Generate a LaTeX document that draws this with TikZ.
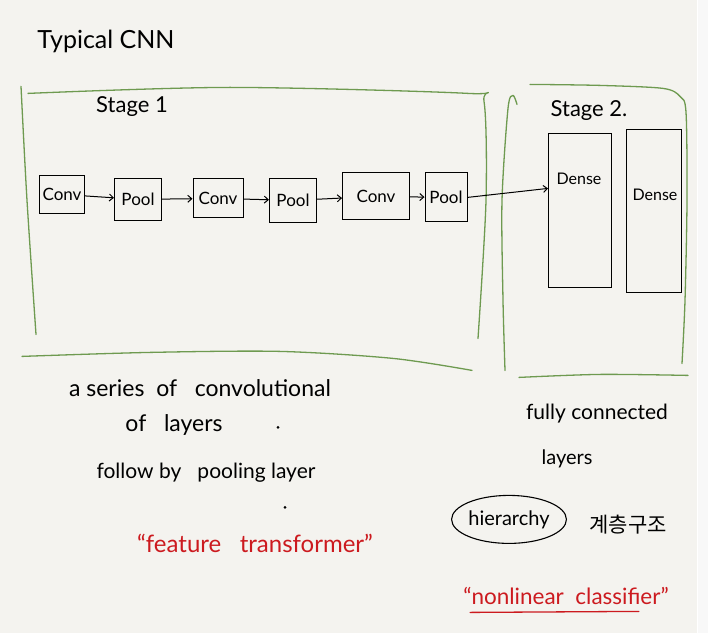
\documentclass[tikz,border=0pt]{standalone}
\usepackage{fontspec}
\setmainfont{Lato}
\newfontfamily\krfont{Noto Sans CJK KR}
\usetikzlibrary{shapes.geometric,arrows.meta}
\definecolor{bgc}{HTML}{F4F3EF}
\definecolor{stripc}{HTML}{F8F8F8}
\definecolor{grn}{HTML}{6E9A50}
\definecolor{rd}{HTML}{CC1A1F}
\tikzset{
  stagebox/.style={draw=grn, line width=1.3pt, line cap=round, line join=round},
  layerbox/.style={draw=black, line width=1pt, minimum width=#1, inner sep=0pt, font=\fontsize{17}{17}\selectfont},
  tallbox/.style={draw=black, line width=1pt, inner sep=0pt},
  flow/.style={-{Straight Barb[length=4pt,width=7pt]}, line width=1pt},
  hand/.style={inner sep=0pt, text=black},
  redhand/.style={inner sep=0pt, text=rd},
}
\begin{document}
\begin{tikzpicture}[x=1pt,y=-1pt]
\fill[bgc] (0,0) rectangle (708,633);
\fill[stripc] (697,0) rectangle (708,633);
\draw[white, line width=0.8pt] (697,0) -- (697,633);
\useasboundingbox (0,0) rectangle (708,633);

% title
\node[hand, font=\fontsize{25}{25}\selectfont] (title) at (106,41) {Typical CNN};

% stage 1 frame
\draw[stagebox] plot[smooth] coordinates {(21,86) (27,200) (36,334)};
\draw[stagebox] plot[smooth] coordinates {(28,93) (230,87) (468,93) (484,101) (486,200) (478,338)};
\draw[stagebox] plot[smooth] coordinates {(22,356) (150,352) (280,351) (393,358) (472,370)};
\node[hand, font=\fontsize{22}{22}\selectfont] (s1) at (132,106) {Stage 1};

% stage 2 frame
\draw[stagebox] plot[smooth] coordinates {(517,104) (513,95) (508,108) (502,200) (503,300) (505,370)};
\draw[stagebox] plot[smooth] coordinates {(530,84) (600,85) (663,88) (680,96) (686,112) (687,200) (685,300) (682,363)};
\draw[stagebox] plot[smooth] coordinates {(519,377) (600,374) (688,375)};
\node[hand, font=\fontsize{22}{22}\selectfont] (s2) at (589,110) {Stage 2.};

% layers
\node[layerbox=45pt, minimum height=38pt] (c1) at (62,194) {Conv};
\node[layerbox=47pt, minimum height=42pt] (p1) at (138,199) {Pool};
\node[layerbox=50pt, minimum height=39pt] (c2) at (218,198) {Conv};
\node[layerbox=47pt, minimum height=44pt] (p2) at (293,200) {Pool};
\node[layerbox=67pt, minimum height=47pt] (c3) at (376,196) {Conv};
\node[layerbox=42pt, minimum height=49pt] (p3) at (446,197) {Pool};

\node[tallbox, minimum width=63pt, minimum height=154pt] (d1) at (580,210) {};
\node[hand, font=\fontsize{16}{16}\selectfont] (d1t) at (579,178) {Dense};
\node[tallbox, minimum width=55pt, minimum height=163pt] (d2) at (654,211) {};
\node[hand, font=\fontsize{16}{16}\selectfont] (d2t) at (655,194) {Dense};

\draw[flow] (c1) -- (p1);
\draw[flow] (p1) -- (c2);
\draw[flow] (c2) -- (p2);
\draw[flow] (p2) -- (c3);
\draw[flow] (c3) -- (p3);
\draw[flow] (p3.east) -- ([yshift=22pt]d1.west);

% stage 1 notes
\node[hand, font=\fontsize{23}{23}\selectfont] (n1) at (200,388) {a series \ of \ \ convolutional};
\node[hand, font=\fontsize{23}{23}\selectfont] (n2) at (174,425) {of \ \ layers};
\fill (278,427) circle (1.5pt);
\node[hand, font=\fontsize{21}{21}\selectfont] (n3) at (206,472) {follow by \ \ pooling layer};
\fill (285,507) circle (1.5pt);
\node[redhand, font=\fontsize{24}{24}\selectfont] (n4) at (255,543) {``feature \ \ transformer''};

% stage 2 notes
\node[hand, font=\fontsize{21}{21}\selectfont] (m1) at (597,413) {fully connected};
\node[hand, font=\fontsize{20}{20}\selectfont] (m2) at (567,458) {layers};
\node[ellipse, draw, line width=1.1pt, minimum width=110pt, minimum height=48pt, inner sep=0pt, font=\fontsize{20}{20}\selectfont] (hier) at (509,519) {hierarchy};
\node[hand, font=\krfont\fontsize{21}{21}\selectfont] (kr) at (628,524) {계층구조};
\node[redhand, font=\fontsize{22.5}{22.5}\selectfont] (nl) at (566,596) {``nonlinear \ classifier''};
\draw[rd, line width=1.3pt, line cap=round] ([xshift=7pt,yshift=-16pt]nl.west) -- ([xshift=-30pt,yshift=-15pt]nl.east);
\end{tikzpicture}
\end{document}
